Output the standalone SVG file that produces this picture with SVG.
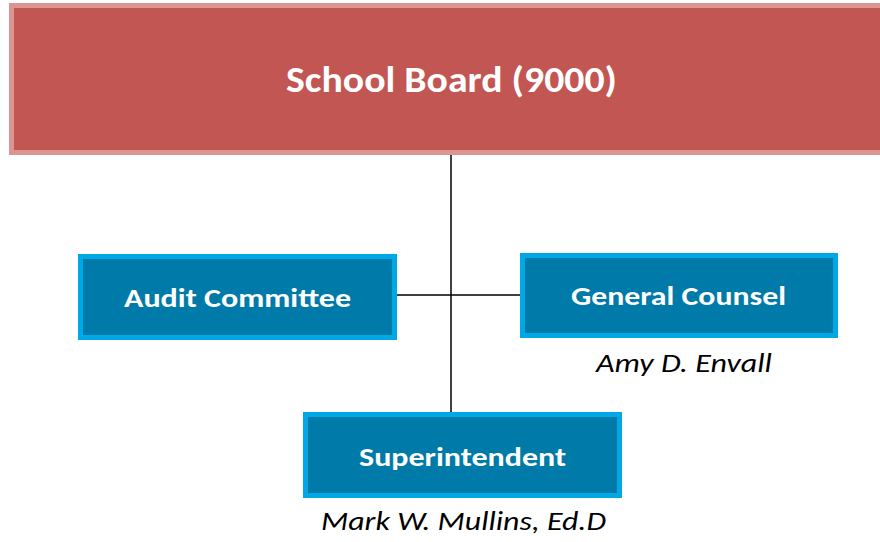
<svg xmlns="http://www.w3.org/2000/svg" width="880" height="542" viewBox="0 0 880 542">
<style>
.box{fill:#007AA8;stroke:#00A9E6;stroke-width:5}
.bt{font-family:Carlito,Calibri,Lato,"Liberation Sans",sans-serif;font-weight:bold;fill:#ffffff;text-anchor:middle}
.nm{font-family:Carlito,Calibri,Lato,"Liberation Sans",sans-serif;font-style:italic;fill:#000000;text-anchor:middle;font-size:27px}
.ln{stroke:#000000;stroke-width:1.5;fill:none}
</style>
<rect width="880" height="542" fill="#ffffff"/>
<g id="connectors">
<line class="ln" x1="451" y1="155" x2="451" y2="412"/>
<line class="ln" x1="397" y1="295" x2="520" y2="295"/>
</g>
<g id="board">
<rect x="11.5" y="5.5" width="880" height="147" fill="#C25653" stroke="#DB9593" stroke-width="5"/>
<text class="bt" x="451.5" y="92" font-size="36" textLength="331" lengthAdjust="spacingAndGlyphs">School Board (9000)</text>
</g>
<g id="audit">
<rect class="box" x="80.5" y="256.5" width="314" height="81"/>
<text class="bt" x="237.5" y="307" font-size="27" textLength="227" lengthAdjust="spacingAndGlyphs">Audit Committee</text>
</g>
<g id="counsel">
<rect class="box" x="522.5" y="255.5" width="313" height="80"/>
<text class="bt" x="678.5" y="305" font-size="27" textLength="215" lengthAdjust="spacingAndGlyphs">General Counsel</text>
<text class="nm" x="684" y="372" textLength="176" lengthAdjust="spacingAndGlyphs">Amy D. Envall</text>
</g>
<g id="superintendent">
<rect class="box" x="305.5" y="414.5" width="314" height="81"/>
<text class="bt" x="462.5" y="466" font-size="27" textLength="207" lengthAdjust="spacingAndGlyphs">Superintendent</text>
<text class="nm" x="463.5" y="530" textLength="285" lengthAdjust="spacingAndGlyphs">Mark W. Mullins, Ed.D</text>
</g>
</svg>
